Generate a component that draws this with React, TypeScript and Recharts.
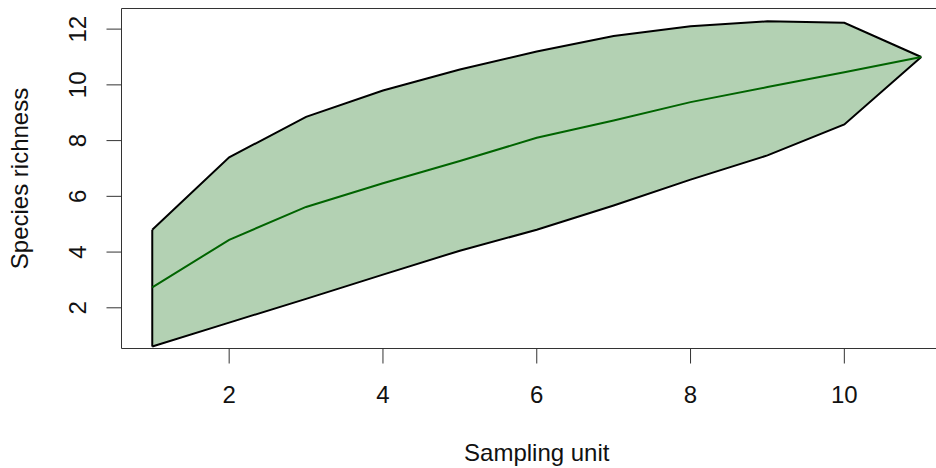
import {
  ComposedChart,
  Area,
  Line,
  XAxis,
  YAxis,
  ReferenceArea,
  ReferenceLine,
} from 'recharts';

const units = [1, 2, 3, 4, 5, 6, 7, 8, 9, 10, 11];
const upper = [4.8, 7.4, 8.85, 9.8, 10.55, 11.2, 11.75, 12.1, 12.28, 12.23, 11.0];
const richness = [2.73, 4.44, 5.62, 6.47, 7.27, 8.1, 8.72, 9.38, 9.92, 10.45, 11.0];
const lower = [0.61, 1.47, 2.32, 3.19, 4.05, 4.8, 5.67, 6.6, 7.47, 8.58, 11.0];
const xTicks = [2, 4, 6, 8, 10];
const yTicks = [2, 4, 6, 8, 10, 12];

const FONT = '"Liberation Sans", Arial, sans-serif';
const FILL = '#B3D1B3';
const MEAN = '#006400';

const rows = units.map((u, i) => ({
  unit: u,
  band: [lower[i], upper[i]],
  upper: upper[i],
  lower: lower[i],
  mean: richness[i],
}));

// eslint-disable-next-line @typescript-eslint/no-explicit-any
const XTick = (p: any) => (
  <text x={p.x} y={p.y + 37} textAnchor="middle" fontSize={24} fontFamily={FONT} fill="#111">
    {p.payload.value}
  </text>
);

// eslint-disable-next-line @typescript-eslint/no-explicit-any
const YTick = (p: any) => {
  const bx = p.x - 18;
  return (
    <text
      x={bx}
      y={p.y}
      transform={`rotate(-90, ${bx}, ${p.y})`}
      textAnchor="middle"
      fontSize={24}
      fontFamily={FONT}
      fill="#111"
    >
      {p.payload.value}
    </text>
  );
};

export default function App() {
  return (
    <div style={{ position: 'absolute', left: 0, top: 0, width: 936, height: 468, overflow: 'hidden', background: '#fff' }}>
      <ComposedChart
        width={960}
        height={468}
        data={rows}
        margin={{ top: 8.5, right: 8, bottom: 0, left: 11.5 }}
      >
        <XAxis
          dataKey="unit"
          type="number"
          domain={[0.6, 11.4]}
          ticks={xTicks}
          allowDataOverflow
          height={119.5}
          axisLine={false}
          tickSize={15}
          tickLine={{ stroke: '#333' }}
          tick={XTick}
          label={{
            content: (props: any) => {
              const vb = props.viewBox;
              return (
                <text
                  x={vb.x + vb.width / 2}
                  y={vb.y + 112}
                  textAnchor="middle"
                  fontSize={24}
                  fontFamily={FONT}
                  fill="#111"
                >
                  Sampling unit
                </text>
              );
            },
          }}
        />
        <YAxis
          type="number"
          domain={[0.54, 12.74]}
          ticks={yTicks}
          allowDataOverflow
          width={110}
          axisLine={false}
          tickSize={15}
          tickLine={{ stroke: '#333' }}
          tick={YTick}
          label={{
            content: (props: any) => {
              const vb = props.viewBox;
              const cx = vb.x + 16.5;
              const cy = vb.y + vb.height / 2;
              return (
                <text
                  x={cx}
                  y={cy}
                  transform={`rotate(-90, ${cx}, ${cy})`}
                  textAnchor="middle"
                  fontSize={24}
                  fontFamily={FONT}
                  fill="#111"
                >
                  Species richness
                </text>
              );
            },
          }}
        />
        <Area
          dataKey="band"
          type="linear"
          fill={FILL}
          fillOpacity={1}
          stroke="none"
          isAnimationActive={false}
        />
        <ReferenceLine
          segment={[
            { x: units[0], y: lower[0] },
            { x: units[0], y: upper[0] },
          ]}
          stroke="#000"
          strokeWidth={2}
        />
        <Line dataKey="upper" type="linear" stroke="#000" strokeWidth={2} dot={false} isAnimationActive={false} />
        <Line dataKey="lower" type="linear" stroke="#000" strokeWidth={2} dot={false} isAnimationActive={false} />
        <Line dataKey="mean" type="linear" stroke={MEAN} strokeWidth={2} dot={false} isAnimationActive={false} />
        <ReferenceArea
          x1={0.6}
          x2={11.4}
          y1={0.54}
          y2={12.74}
          fill="none"
          stroke="#333"
          strokeWidth={1}
          ifOverflow="visible"
        />
      </ComposedChart>
    </div>
  );
}
